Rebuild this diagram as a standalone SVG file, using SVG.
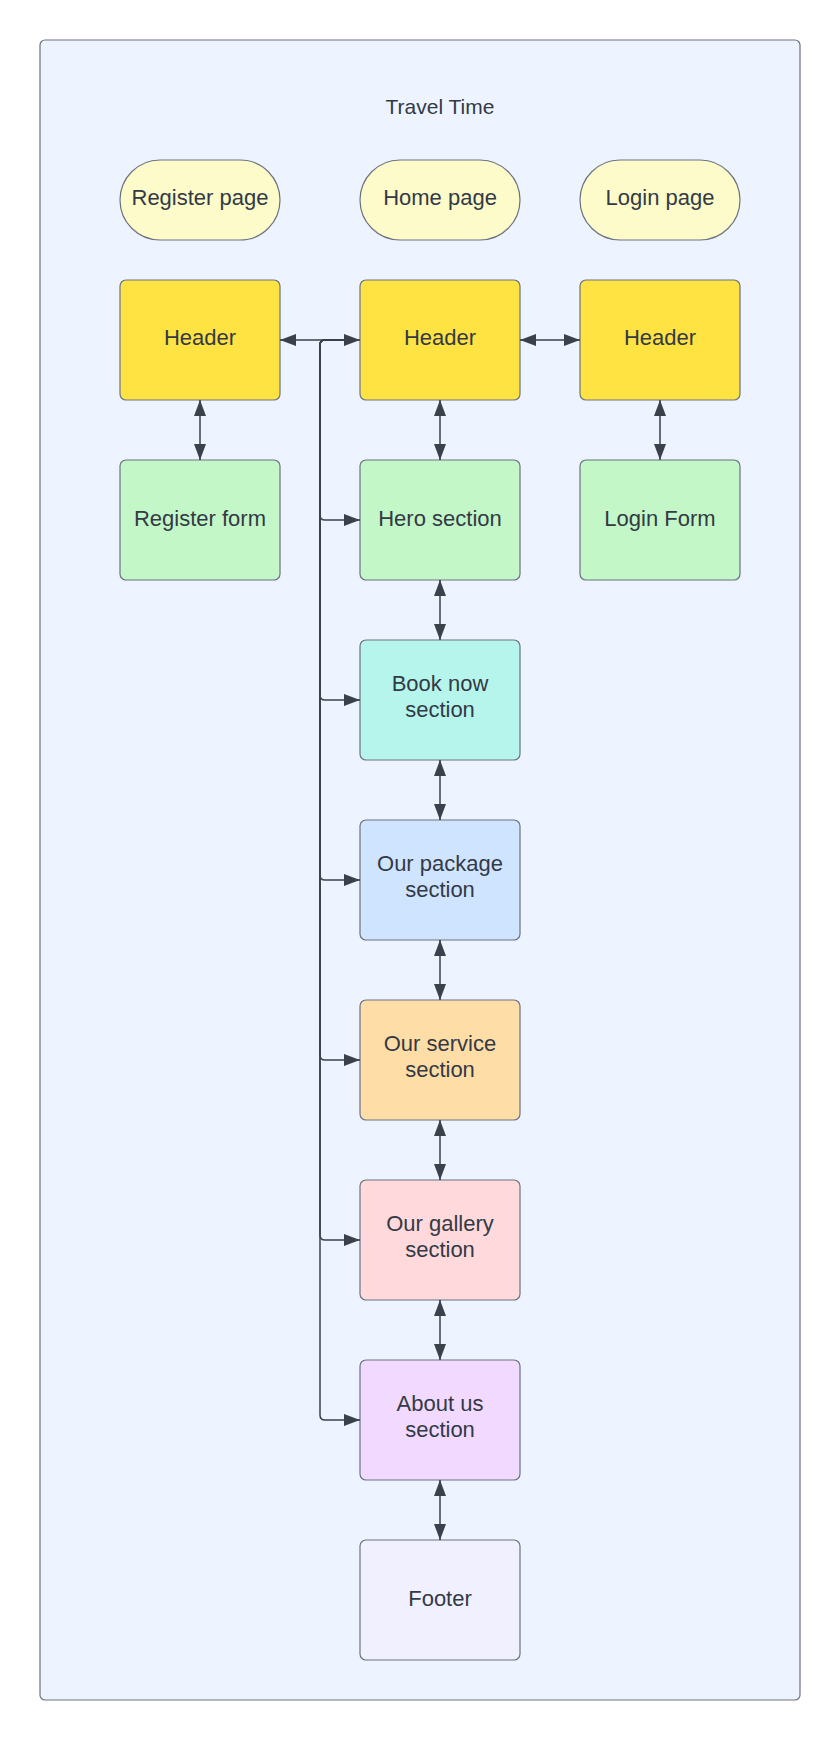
<svg xmlns="http://www.w3.org/2000/svg" width="840" height="1740" viewBox="0 0 840 1740">
<style>
.box{stroke:#6b7280;stroke-width:1.2}
.t{font-family:"Liberation Sans",Arial,sans-serif;font-size:22px;fill:#333a45;text-anchor:middle}
.c{fill:none;stroke:#3a414a;stroke-width:1.5}
</style>
<defs>
<marker id="ae" viewBox="0 0 16 12" refX="16" refY="6" markerWidth="16" markerHeight="12" markerUnits="userSpaceOnUse" orient="auto"><path d="M0,0 L16,6 L0,12 Z" fill="#3a414a"/></marker>
<marker id="as" viewBox="0 0 16 12" refX="0" refY="6" markerWidth="16" markerHeight="12" markerUnits="userSpaceOnUse" orient="auto"><path d="M16,0 L0,6 L16,12 Z" fill="#3a414a"/></marker>
</defs>
<rect width="840" height="1740" fill="#ffffff"/>
<g id="frame">
<rect x="40" y="40" width="760" height="1660" rx="5" fill="#edf4ff" stroke="#6b7280" stroke-width="1.2"/>
<text class="t" x="440" y="114" style="font-size:21px">Travel Time</text>
</g>
<g id="register-page"><rect class="box" x="120" y="160" width="160" height="80" rx="40" fill="#fcfbc9"/><text class="t" x="200" y="205">Register page</text></g>
<g id="home-page"><rect class="box" x="360" y="160" width="160" height="80" rx="40" fill="#fcfbc9"/><text class="t" x="440" y="205">Home page</text></g>
<g id="login-page"><rect class="box" x="580" y="160" width="160" height="80" rx="40" fill="#fcfbc9"/><text class="t" x="660" y="205">Login page</text></g>
<g id="register-header"><rect class="box" x="120" y="280" width="160" height="120" rx="6" fill="#ffe342"/><text class="t" x="200" y="345">Header</text></g>
<g id="home-header"><rect class="box" x="360" y="280" width="160" height="120" rx="6" fill="#ffe342"/><text class="t" x="440" y="345">Header</text></g>
<g id="login-header"><rect class="box" x="580" y="280" width="160" height="120" rx="6" fill="#ffe342"/><text class="t" x="660" y="345">Header</text></g>
<g id="register-form"><rect class="box" x="120" y="460" width="160" height="120" rx="6" fill="#c3f7c8"/><text class="t" x="200" y="526">Register form</text></g>
<g id="hero"><rect class="box" x="360" y="460" width="160" height="120" rx="6" fill="#c3f7c8"/><text class="t" x="440" y="526">Hero section</text></g>
<g id="login-form"><rect class="box" x="580" y="460" width="160" height="120" rx="6" fill="#c3f7c8"/><text class="t" x="660" y="526">Login Form</text></g>
<g id="book-now"><rect class="box" x="360" y="640" width="160" height="120" rx="6" fill="#b6f5ec"/><text class="t" x="440" y="691">Book now</text><text class="t" x="440" y="717">section</text></g>
<g id="package"><rect class="box" x="360" y="820" width="160" height="120" rx="6" fill="#cfe4ff"/><text class="t" x="440" y="871">Our package</text><text class="t" x="440" y="897">section</text></g>
<g id="service"><rect class="box" x="360" y="1000" width="160" height="120" rx="6" fill="#ffdda6"/><text class="t" x="440" y="1051">Our service</text><text class="t" x="440" y="1077">section</text></g>
<g id="gallery"><rect class="box" x="360" y="1180" width="160" height="120" rx="6" fill="#ffd9db"/><text class="t" x="440" y="1231">Our gallery</text><text class="t" x="440" y="1257">section</text></g>
<g id="about"><rect class="box" x="360" y="1360" width="160" height="120" rx="6" fill="#f2d9ff"/><text class="t" x="440" y="1411">About us</text><text class="t" x="440" y="1437">section</text></g>
<g id="footer"><rect class="box" x="360" y="1540" width="160" height="120" rx="6" fill="#f0f0ff"/><text class="t" x="440" y="1606">Footer</text></g>
<g id="connectors">
<path class="c" d="M280,340 H360" marker-start="url(#as)" marker-end="url(#ae)"/>
<path class="c" d="M520,340 H580" marker-start="url(#as)" marker-end="url(#ae)"/>
<path class="c" d="M200,400 V460" marker-start="url(#as)" marker-end="url(#ae)"/>
<path class="c" d="M440,400 V460" marker-start="url(#as)" marker-end="url(#ae)"/>
<path class="c" d="M660,400 V460" marker-start="url(#as)" marker-end="url(#ae)"/>
<path class="c" d="M440,580 V640" marker-start="url(#as)" marker-end="url(#ae)"/>
<path class="c" d="M440,760 V820" marker-start="url(#as)" marker-end="url(#ae)"/>
<path class="c" d="M440,940 V1000" marker-start="url(#as)" marker-end="url(#ae)"/>
<path class="c" d="M440,1120 V1180" marker-start="url(#as)" marker-end="url(#ae)"/>
<path class="c" d="M440,1300 V1360" marker-start="url(#as)" marker-end="url(#ae)"/>
<path class="c" d="M440,1480 V1540" marker-start="url(#as)" marker-end="url(#ae)"/>
<path class="c" d="M348,340 H325 Q320,340 320,345 V515 Q320,520 325,520 H360" marker-end="url(#ae)"/>
<path class="c" d="M348,340 H325 Q320,340 320,345 V695 Q320,700 325,700 H360" marker-end="url(#ae)"/>
<path class="c" d="M348,340 H325 Q320,340 320,345 V875 Q320,880 325,880 H360" marker-end="url(#ae)"/>
<path class="c" d="M348,340 H325 Q320,340 320,345 V1055 Q320,1060 325,1060 H360" marker-end="url(#ae)"/>
<path class="c" d="M348,340 H325 Q320,340 320,345 V1235 Q320,1240 325,1240 H360" marker-end="url(#ae)"/>
<path class="c" d="M348,340 H325 Q320,340 320,345 V1415 Q320,1420 325,1420 H360" marker-end="url(#ae)"/>
</g>
</svg>
